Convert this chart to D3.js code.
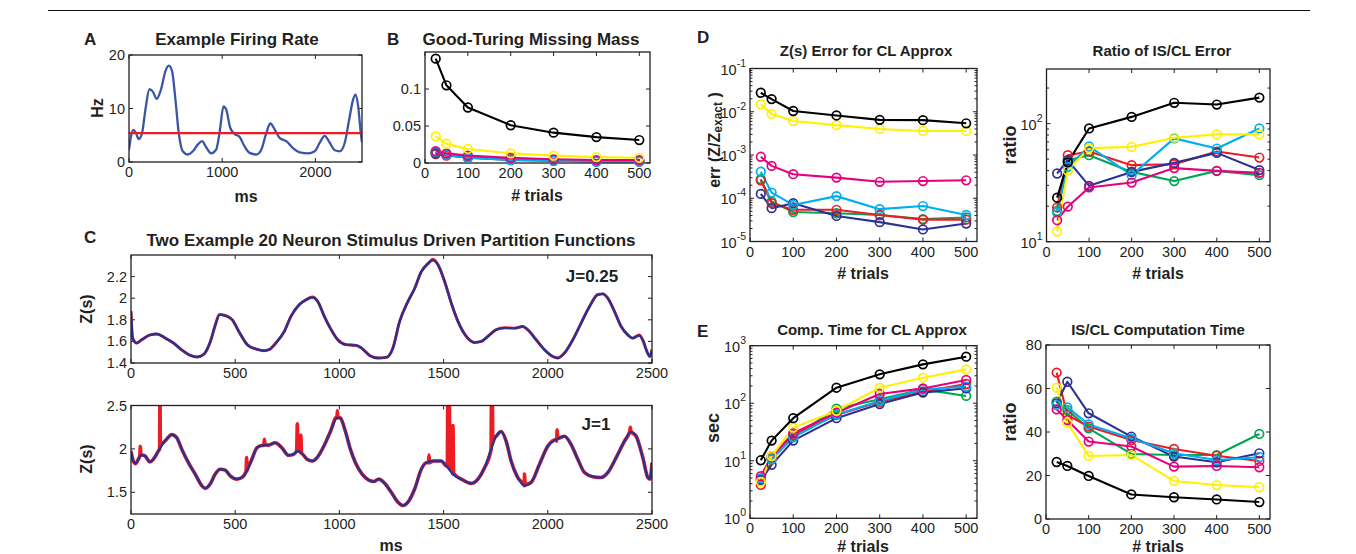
<!DOCTYPE html>
<html><head><meta charset="utf-8">
<script src="https://cdn.jsdelivr.net/npm/d3@7"></script>
<style>body{margin:0;background:#fff} text{font-family:"Liberation Sans",Arial,Helvetica,sans-serif;fill:#231f20}</style>
</head><body><script>
// ---------------- DATA ----------------
const trials = [25, 50, 100, 200, 300, 400, 500];
const seriesColors = ["#00a651", "#ed1c24", "#2e3192", "#00aeef", "#e6007e", "#fff100", "#000000"]; // green, red, blue, cyan, magenta, yellow, black

// Panel A: firing rate (ms, Hz)
const rateMs = [0,22,47,75,104,140,176,219,254,297,344,391,427,462,498,534,577,631,685,738,785,828,882,935,971,1014,1043,1086,1133,1186,1240,1294,1366,1419,1473,1516,1563,1616,1688,1760,1832,1921,1993,2047,2100,2154,2208,2262,2315,2362,2405,2430,2459,2487,2500];
const rateHz = [2.3,4.8,6.0,5.4,4.3,5.4,9.8,13.6,13.2,11.8,13.6,17.0,18.0,17.0,11.7,5.4,2.0,1.4,2.0,3.25,3.9,2.75,1.6,2.3,5.4,10.4,9.8,6.4,5.25,4.7,2.9,1.7,1.4,2.3,5.4,7.2,6.1,4.5,3.9,2.6,1.8,1.6,2.0,3.6,4.9,3.6,2.2,2.0,3.6,7.9,11.7,12.6,10.4,5.4,3.7];
const meanRate = [5.4];

// Panel B: Good-Turing missing mass (order: green, red, blue, cyan, magenta, yellow, black)
const missingMass = [
  [0.014,0.011,0.008,0.005,0.004,0.003,0.003],
  [0.012,0.010,0.008,0.005,0.004,0.003,0.003],
  [0.013,0.011,0.007,0.004,0.003,0.002,0.002],
  [0.015,0.011,0.007,0.004,0.003,0.002,0.002],
  [0.016,0.013,0.010,0.007,0.005,0.004,0.004],
  [0.036,0.026,0.019,0.013,0.010,0.008,0.007],
  [0.141,0.105,0.075,0.051,0.041,0.035,0.031]
];

// Panel C: partition functions
const zTimeJ025 = [0,8,27,51,92,124,164,204,244,285,317,349,381,405,424,453,486,518,558,598,638,662,695,735,767,807,839,871,896,928,960,992,1032,1080,1105,1145,1185,1225,1257,1289,1329,1361,1393,1425,1449,1473,1505,1537,1569,1609,1649,1681,1712,1752,1792,1840,1880,1904,1944,1984,2024,2048,2080,2120,2160,2200,2240,2264,2288,2320,2352,2384,2407,2439,2455,2479,2490,2500];
const zBlueJ025 = [1.877,1.63,1.585,1.615,1.66,1.668,1.63,1.585,1.52,1.47,1.455,1.48,1.6,1.754,1.846,1.837,1.8,1.69,1.57,1.53,1.514,1.523,1.585,1.69,1.83,1.94,1.985,2.006,1.97,1.83,1.71,1.615,1.57,1.563,1.54,1.47,1.446,1.452,1.54,1.785,1.97,2.09,2.246,2.32,2.35,2.31,2.154,1.954,1.785,1.646,1.59,1.6,1.646,1.708,1.723,1.723,1.738,1.708,1.615,1.523,1.46,1.446,1.492,1.615,1.77,1.923,2.03,2.04,2.0,1.877,1.738,1.66,1.63,1.655,1.615,1.492,1.46,1.523];
const zRedJ025 = [1.88,1.63,1.585,1.615,1.66,1.668,1.632,1.585,1.52,1.47,1.455,1.48,1.6,1.754,1.85,1.84,1.8,1.69,1.57,1.53,1.514,1.523,1.585,1.69,1.83,1.94,1.985,2.012,1.97,1.83,1.71,1.615,1.57,1.563,1.54,1.47,1.446,1.452,1.54,1.785,1.97,2.09,2.246,2.32,2.36,2.31,2.154,1.954,1.785,1.646,1.59,1.6,1.646,1.708,1.728,1.723,1.738,1.708,1.615,1.523,1.46,1.446,1.492,1.615,1.77,1.923,2.035,2.04,2.0,1.877,1.738,1.66,1.63,1.66,1.615,1.492,1.46,1.523];
const zTimeJ1 = [0,11,22,35,51,67,91,107,131,163,196,219,244,276,308,340,356,380,404,428,452,476,508,532,556,580,604,628,660,692,724,756,780,801,821,845,869,893,925,957,989,1005,1029,1053,1077,1109,1141,1165,1189,1213,1249,1281,1305,1329,1361,1393,1417,1449,1489,1513,1545,1585,1633,1665,1697,1728,1752,1776,1800,1824,1856,1888,1920,1960,2000,2040,2080,2112,2144,2176,2216,2256,2288,2328,2368,2400,2424,2456,2480,2490,2500];
const zBlueJ1 = [1.975,1.86,1.83,1.88,1.93,1.92,1.85,1.88,1.975,2.09,2.165,2.13,1.994,1.84,1.71,1.576,1.545,1.595,1.71,1.766,1.755,1.69,1.652,1.67,1.747,1.88,2.013,2.04,2.044,2.07,2.013,1.926,1.937,1.975,1.945,1.88,1.86,1.9,2.03,2.2,2.356,2.356,2.2,1.994,1.84,1.71,1.64,1.625,1.652,1.614,1.5,1.386,1.348,1.386,1.538,1.766,1.84,1.86,1.86,1.804,1.71,1.652,1.603,1.652,1.785,1.994,2.146,2.2,2.09,1.86,1.67,1.576,1.614,1.823,2.032,2.108,2.146,2.05,1.88,1.728,1.68,1.67,1.728,1.9,2.09,2.196,2.146,1.9,1.67,1.652,1.84];
// red J=1 trace: same smooth course plus the spikes
const spikeTimeJ1 = [42,45,48,137,139,141,552,555,558,637,640,643,795,798,801,812,815,818,987,990,993,1427,1430,1433,1518,1520,1522,1526,1528,1530,1542,1545,1548,1728,1730,1732,1734,1736,1885,1888,1891,2042,2045,2048,2393,2396,2399];
const spikeValJ1 = [1.92,2.03,1.93,2.0,2.6,2.05,1.74,1.9,1.76,2.04,2.11,2.05,1.98,2.29,2.0,1.96,2.16,1.95,2.37,2.44,2.37,1.84,1.93,1.84,1.84,2.6,1.84,1.82,2.55,1.80,1.73,2.27,1.72,2.02,2.6,2.1,2.6,2.12,1.59,1.71,1.59,2.09,2.22,2.12,2.2,2.25,2.2];

// Panel D left: Z(s) error (order: green, red, blue, cyan, magenta, yellow, black)
const errCL = [
  [2.75e-4,8.4e-5,4.8e-5,4.5e-5,4.1e-5,3.3e-5,3.6e-5],
  [2.6e-4,7.7e-5,5.4e-5,5.4e-5,4.1e-5,3.2e-5,3.2e-5],
  [1.26e-4,5.9e-5,7.7e-5,3.9e-5,2.8e-5,1.9e-5,2.6e-5],
  [4.1e-4,1.35e-4,7.0e-5,1.12e-4,5.6e-5,6.6e-5,4.1e-5],
  [9.1e-4,5.6e-4,3.6e-4,3.0e-4,2.4e-4,2.5e-4,2.6e-4],
  [0.0148,0.0089,0.0061,0.0049,0.0040,0.0036,0.0036],
  [0.0275,0.0196,0.0104,0.0082,0.0065,0.0064,0.0054]
];
// Panel D right: ratio of IS/CL error
const errRatio = [
  [18.2,49,54,39,32.6,39.8,36.6],
  [19.5,54,58,44.5,45.3,58,51.6],
  [37.8,49,29.7,39,46.5,56.5,40.4],
  [17.6,43,64,36.6,75,61.5,91],
  [15.2,19.8,28.8,31.7,42,39.8,38.3],
  [12.2,39.8,62,63.5,76,81,81],
  [23.6,47,91,114,150,145,166]
];
// Panel E left: computation time (sec)
const compTime = [
  [4.8,11,26,80.5,117,174,134],
  [3.8,10.6,28,62.5,106,159,216],
  [4.6,8.5,22.4,55,97,153,182],
  [5.0,10.6,25.6,64,109,174,194],
  [5.4,12,30,68.5,145,181,254],
  [4.3,12.1,37.6,74,186,278,388],
  [10.2,22.4,55,186,318,474,644]
];
// Panel E right: IS/CL computation time ratio
const timeRatio = [
  [54,50.1,41.7,29.9,29.4,29.4,39.1],
  [67.3,47.8,42.5,36.3,32.2,29.1,26.7],
  [53.2,63.1,48.6,37.9,28.7,26.1,30.2],
  [52.4,51.3,43.5,37.1,30.2,27.1,28.4],
  [50.4,45.5,35.6,33.3,24.1,24.4,23.8],
  [60.4,44.3,29,29.4,17.5,15.6,14.6],
  [26.2,24.4,19.8,11.3,10,9,7.8]
];

// ticks
const trialTicks = [0,100,200,300,400,500];
const msTicksA = [0,1000,2000];
const msTicksC = [0,500,1000,1500,2000,2500];

// ---------------- DRAW ----------------
const W = 1356, H = 554;
const svg = d3.select("body").append("svg").attr("width", W).attr("height", H);
svg.append("rect").attr("width", W).attr("height", H).attr("fill", "#fff");
svg.append("line").attr("x1", 48).attr("x2", 1310).attr("y1", 10.5).attr("y2", 10.5).attr("stroke", "#111").attr("stroke-width", 1.2);

let clipId = 0;
function panel(o) {
  const g = svg.append("g");
  const x = d3.scaleLinear().domain(o.xDomain).range([o.x0, o.x1]);
  const y = (o.yLog ? d3.scaleLog() : d3.scaleLinear()).domain(o.yDomain).range([o.y1, o.y0]);
  const id = "clip" + (clipId++);
  svg.append("clipPath").attr("id", id).append("rect")
    .attr("x", o.x0).attr("y", o.y0).attr("width", o.x1 - o.x0).attr("height", o.y1 - o.y0);
  const axisG = g.append("g").attr("stroke", "#231f20").attr("stroke-width", 1);
  const tl = 4;
  o.xTicks.forEach(t => {
    const px = x(t);
    axisG.append("line").attr("x1", px).attr("x2", px).attr("y1", o.y1).attr("y2", o.y1 - tl);
    axisG.append("line").attr("x1", px).attr("x2", px).attr("y1", o.y0).attr("y2", o.y0 + tl);
    g.append("text").attr("x", px).attr("y", o.y1 + 15).attr("text-anchor", "middle")
      .attr("font-size", 14.5).text(o.xFmt ? o.xFmt(t) : t);
  });
  o.yTicks.forEach(t => {
    const py = y(t);
    axisG.append("line").attr("x1", o.x0).attr("x2", o.x0 + tl).attr("y1", py).attr("y2", py);
    axisG.append("line").attr("x1", o.x1).attr("x2", o.x1 - tl).attr("y1", py).attr("y2", py);
    if (o.yLog) {
      const e = Math.round(Math.log10(t));
      const tx = g.append("text").attr("x", o.x0 - 4).attr("y", py + 6).attr("text-anchor", "end").attr("font-size", 14.5);
      tx.append("tspan").text("10");
      tx.append("tspan").attr("font-size", 10.5).attr("dy", -8).text(e);
    } else {
      g.append("text").attr("x", o.x0 - 4).attr("y", py + 5).attr("text-anchor", "end")
        .attr("font-size", 14.5).text(o.yFmt ? o.yFmt(t) : t);
    }
  });
  (o.minor || []).forEach(t => {
    const py = y(t);
    axisG.append("line").attr("x1", o.x0).attr("x2", o.x0 + 2.5).attr("y1", py).attr("y2", py);
    axisG.append("line").attr("x1", o.x1).attr("x2", o.x1 - 2.5).attr("y1", py).attr("y2", py);
  });
  const plot = g.append("g").attr("clip-path", `url(#${id})`);
  const frame = g.append("rect").attr("x", o.x0).attr("y", o.y0).attr("width", o.x1 - o.x0).attr("height", o.y1 - o.y0)
    .attr("fill", "none").attr("stroke", "#231f20").attr("stroke-width", 1.3);
  return { g, plot, x, y, frame };
}

function logMinor(lo, hi) {
  const out = [];
  for (let e = Math.floor(Math.log10(lo)); e <= Math.ceil(Math.log10(hi)); e++)
    for (let m = 2; m <= 9; m++) { const v = m * Math.pow(10, e); if (v > lo && v < hi) out.push(v); }
  return out;
}

function trialSeries(p, values, r) {
  values.forEach((vals, i) => {
    const pts = trials.map((t, j) => [t, vals[j]]);
    const col = seriesColors[i];
    p.plot.append("path").datum(pts).attr("fill", "none").attr("stroke", col).attr("stroke-width", 2.1)
      .attr("stroke-linejoin", "round")
      .attr("d", d3.line().x(d => p.x(d[0])).y(d => p.y(d[1])));
    p.g.selectAll(null).data(pts).enter().append("circle")
      .attr("cx", d => p.x(d[0])).attr("cy", d => p.y(d[1])).attr("r", r || 4.3)
      .attr("fill", "none").attr("stroke", col).attr("stroke-width", 1.7);
  });
}

function txt(s, x, y, size, bold, anchor) {
  return svg.append("text").attr("x", x).attr("y", y).attr("font-size", size)
    .attr("font-weight", bold ? "bold" : "normal").attr("text-anchor", anchor || "middle").text(s);
}
function vtxt(s, x, y, size) {
  return svg.append("text").attr("transform", `translate(${x},${y}) rotate(-90)`).attr("font-size", size)
    .attr("font-weight", "bold").attr("text-anchor", "middle").attr("dominant-baseline", "central").text(s);
}

// ---- Panel A ----
const pA = panel({ x0: 129, x1: 362, y0: 55, y1: 162, xDomain: [0, 2500], yDomain: [0, 20], xTicks: msTicksA, yTicks: [0, 10, 20] });
pA.plot.append("path").datum(rateMs.map((t, i) => [t, rateHz[i]])).attr("fill", "none").attr("stroke", "#3a55a5").attr("stroke-width", 2.3)
  .attr("d", d3.line().curve(d3.curveMonotoneX).x(d => pA.x(d[0])).y(d => pA.y(d[1])));
pA.plot.append("line").attr("x1", pA.x(0)).attr("x2", pA.x(2500)).attr("y1", pA.y(meanRate[0])).attr("y2", pA.y(meanRate[0]))
  .attr("stroke", "#ed1c24").attr("stroke-width", 2.3);
pA.frame.raise();
txt("A", 84, 45, 17, true, "start");
txt("Example Firing Rate", 237, 45, 17, true);
vtxt("Hz", 97, 108, 16);
txt("ms", 246, 202, 16, true);

// ---- Panel B ----
const pB = panel({ x0: 425, x1: 650, y0: 52, y1: 163, xDomain: [0, 525], yDomain: [0, 0.15], xTicks: trialTicks, yTicks: [0, 0.05, 0.1] });
trialSeries(pB, missingMass, 4.3);
txt("B", 387, 45, 17, true, "start");
txt("Good-Turing Missing Mass", 531, 45, 17, true);
txt("# trials", 537, 201, 16, true);

// ---- Panel C ----
const pC1 = panel({ x0: 131, x1: 652, y0: 255, y1: 363, xDomain: [0, 2500], yDomain: [1.4, 2.4], xTicks: msTicksC, yTicks: [1.4, 1.6, 1.8, 2, 2.2] });
const lineC1 = d3.line().curve(d3.curveMonotoneX).x(d => pC1.x(d[0])).y(d => pC1.y(d[1]));
pC1.plot.append("path").datum(zTimeJ025.map((t, i) => [t, zRedJ025[i]])).attr("fill", "none").attr("stroke", "#ed1c24").attr("stroke-width", 2.9).attr("d", lineC1);
pC1.plot.append("path").datum(zTimeJ025.map((t, i) => [t, zBlueJ025[i]])).attr("fill", "none").attr("stroke", "#2b3190").attr("stroke-width", 2.4).attr("d", lineC1);
txt("J=0.25", 592, 282, 17, true);

const pC2 = panel({ x0: 131, x1: 652, y0: 405.5, y1: 514, xDomain: [0, 2500], yDomain: [1.25, 2.5], xTicks: msTicksC, yTicks: [1.5, 2, 2.5] });
const lineC2 = d3.line().curve(d3.curveMonotoneX).x(d => pC2.x(d[0])).y(d => pC2.y(d[1]));
const redJ1 = zTimeJ1.map((t, i) => [t, zBlueJ1[i]]).concat(spikeTimeJ1.map((t, i) => [t, spikeValJ1[i]]))
  .sort((a, b) => a[0] - b[0]);
pC2.plot.append("path").datum(redJ1).attr("fill", "none").attr("stroke", "#ed1c24").attr("stroke-width", 3.6).attr("stroke-linejoin", "round").attr("d", lineC2);
pC2.plot.append("path").datum(zTimeJ1.map((t, i) => [t, zBlueJ1[i]])).attr("fill", "none").attr("stroke", "#2b3190").attr("stroke-width", 2.4).attr("d", lineC2);
txt("J=1", 596, 430, 17, true);

txt("C", 84, 243, 17, true, "start");
txt("Two Example 20 Neuron Stimulus Driven Partition Functions", 391, 246, 17, true);
vtxt("Z(s)", 86, 309, 16);
vtxt("Z(s)", 86, 459, 16);
txt("ms", 391, 551, 16, true);

// ---- Panel D ----
const pD1 = panel({ x0: 750, x1: 977, y0: 68.5, y1: 241.5, xDomain: [0, 525], yDomain: [1e-5, 1e-1], yLog: true,
  xTicks: trialTicks, yTicks: [1e-5, 1e-4, 1e-3, 1e-2, 1e-1], minor: logMinor(1e-5, 1e-1) });
trialSeries(pD1, errCL, 4.3);
txt("D", 697, 43, 17, true, "start");
txt("Z(s) Error for CL Approx", 866, 56, 15, true);
const el = svg.append("text").attr("transform", "translate(714,140) rotate(-90)").attr("font-size", 16).attr("font-weight", "bold")
  .attr("text-anchor", "middle").attr("dominant-baseline", "central");
el.append("tspan").text("err (Z/Z");
el.append("tspan").attr("font-size", 12).attr("dy", 4).text("exact");
el.append("tspan").attr("dy", -4).text(" )");
txt("# trials", 863, 279, 16, true);

const pD2 = panel({ x0: 1046.5, x1: 1270, y0: 69, y1: 241.7, xDomain: [0, 525], yDomain: [10, 290], yLog: true,
  xTicks: trialTicks, yTicks: [10, 100], minor: logMinor(10, 290) });
trialSeries(pD2, errRatio, 4.3);
txt("Ratio of IS/CL Error", 1162, 56, 15, true);
vtxt("ratio", 1010, 145, 18);
txt("# trials", 1158, 279, 16, true);

// ---- Panel E ----
const pE1 = panel({ x0: 750, x1: 977, y0: 345.7, y1: 518.3, xDomain: [0, 525], yDomain: [1, 1000], yLog: true,
  xTicks: trialTicks, yTicks: [1, 10, 100, 1000], minor: logMinor(1, 1000) });
trialSeries(pE1, compTime, 4.3);
txt("E", 697, 337, 17, true, "start");
txt("Comp. Time for CL Approx", 872, 335, 15, true);
vtxt("sec", 713, 428, 18);
txt("# trials", 863, 552, 16, true);

const pE2 = panel({ x0: 1046, x1: 1270, y0: 345, y1: 519, xDomain: [0, 525], yDomain: [0, 80],
  xTicks: trialTicks, yTicks: [0, 20, 40, 60, 80] });
trialSeries(pE2, timeRatio, 4.3);
txt("IS/CL Computation Time", 1158, 335, 15, true);
vtxt("ratio", 1010, 422, 18);
txt("# trials", 1158, 552, 16, true);
</script></body></html>
